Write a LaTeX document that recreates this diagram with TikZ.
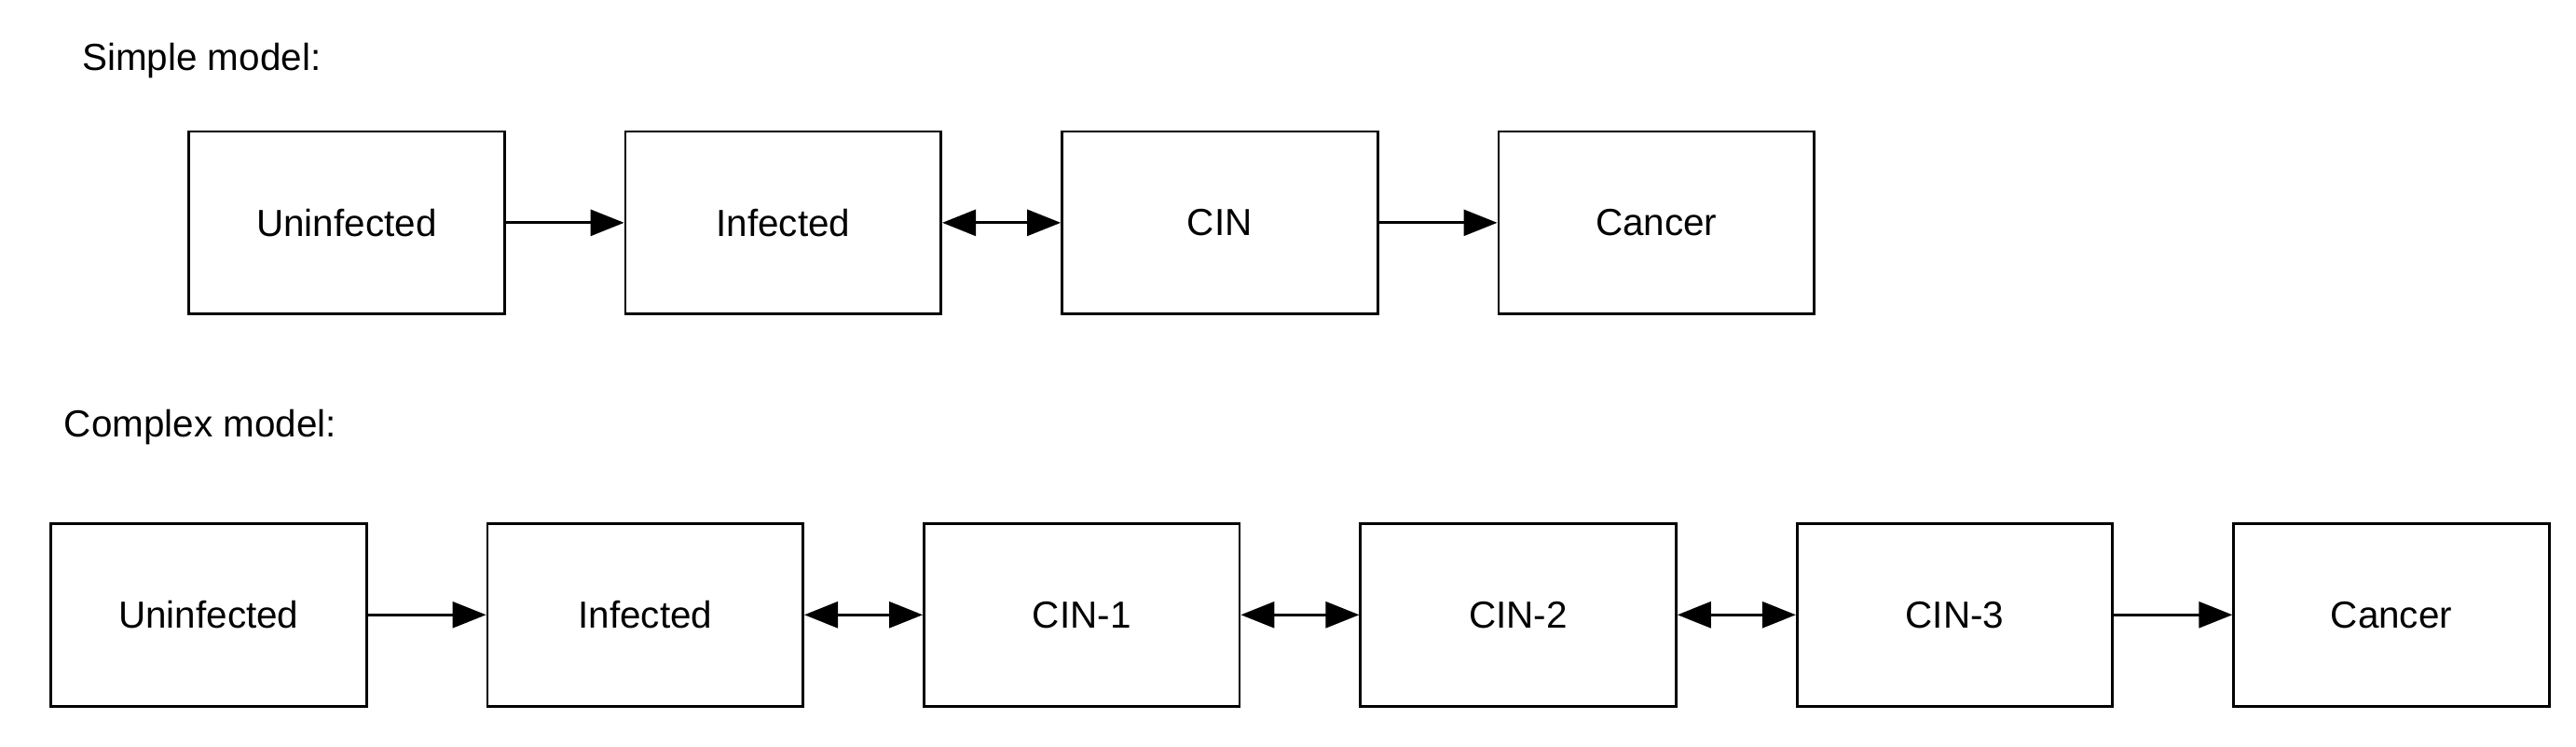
\documentclass[tikz,border=0pt]{standalone}
\usepackage{fontspec}
\setmainfont{Liberation Sans}
\usetikzlibrary{positioning,arrows.meta}

\tikzstyle{state}=[rectangle, draw, line width=0.8pt, minimum width=3.385cm, minimum height=1.957cm, font=\fontsize{11.5}{13}\selectfont]
\tikzstyle{onestep}=[line width=0.8pt, -{Triangle[length=0.36cm,width=0.28cm]}]
\tikzstyle{bothway}=[line width=0.8pt, {Triangle[length=0.36cm,width=0.28cm]}-{Triangle[length=0.36cm,width=0.28cm]}]

\begin{document}
\begin{tikzpicture}[x=0.01763cm,y=-0.01763cm]
\useasboundingbox (0,0) rectangle (1568,454);

\node[anchor=west, font=\fontsize{11.5}{13}\selectfont] (simple) at (43,37) {Simple model:};
\node[state] (s1) at (211,135.5) {Uninfected};
\node[state, right=1.27cm of s1] (s2) {Infected};
\node[state, right=1.27cm of s2] (s3) {CIN};
\node[state, right=1.27cm of s3] (s4) {Cancer};
\draw[onestep] (s1) -- (s2);
\draw[bothway] (s2) -- (s3);
\draw[onestep] (s3) -- (s4);

\node[anchor=west, font=\fontsize{11.5}{13}\selectfont] (complex) at (32,260) {Complex model:};
\node[state] (c1) at (127,374) {Uninfected};
\node[state, right=1.27cm of c1] (c2) {Infected};
\node[state, right=1.27cm of c2] (c3) {CIN-1};
\node[state, right=1.27cm of c3] (c4) {CIN-2};
\node[state, right=1.27cm of c4] (c5) {CIN-3};
\node[state, right=1.27cm of c5] (c6) {Cancer};
\draw[onestep] (c1) -- (c2);
\draw[bothway] (c2) -- (c3);
\draw[bothway] (c3) -- (c4);
\draw[bothway] (c4) -- (c5);
\draw[onestep] (c5) -- (c6);
\end{tikzpicture}
\end{document}
